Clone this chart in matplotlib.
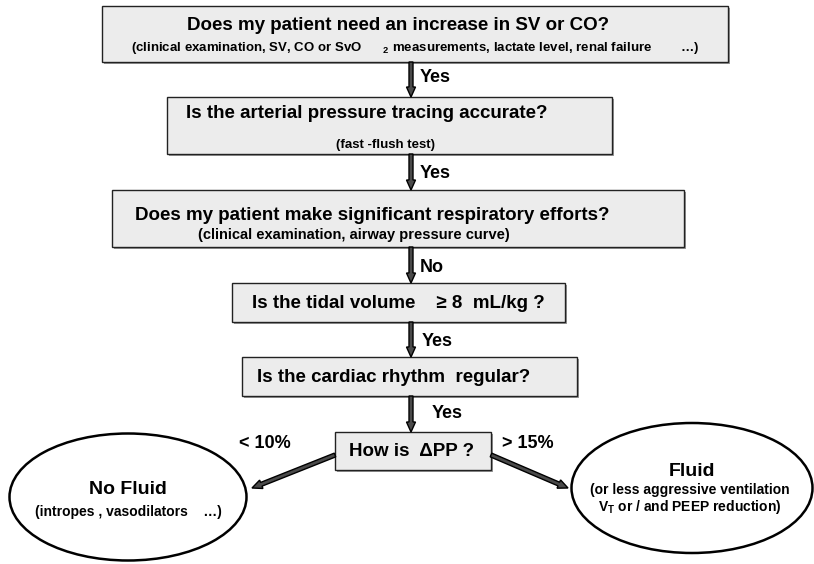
import matplotlib
matplotlib.use("Agg")
import matplotlib.pyplot as plt
from matplotlib.patches import Rectangle, Ellipse, FancyArrow

plt.rcParams['font.family'] = ['Liberation Sans', 'DejaVu Sans']
plt.rcParams['mathtext.fontset'] = 'custom'
plt.rcParams['mathtext.rm'] = 'Liberation Sans:bold'
plt.rcParams['mathtext.bf'] = 'Liberation Sans:bold'
plt.rcParams['mathtext.it'] = 'Liberation Sans:bold'

# flowchart content
box_titles = [
    "Does my patient need an increase in SV or CO?",
    "Is the arterial pressure tracing accurate?",
    "Does my patient make significant respiratory efforts?",
    "Is the tidal volume    \u2265 8  mL/kg ?",
    "Is the cardiac rhythm  regular?",
    "How is  \u0394PP ?",
]
box_notes = [
    "(clinical examination, SV, CO or SvO      $_\\mathbf{2}$ measurements, lactate level, renal failure        \u2026)",
    "(fast -flush test)",
    "(clinical examination, airway pressure curve)",
    "", "", "",
]
step_answers = ["Yes", "Yes", "No", "Yes", "Yes"]
branch_labels = ["< 10%", "> 15%"]
outcome_titles = ["No Fluid", "Fluid"]
outcome_notes = [
    ["(intropes , vasodilators    \u2026)"],
    ["(or less aggressive ventilation", "$\\mathbf{V_T}$ or / and PEEP reduction)"],
]

# layout (pixel units, y downwards)
boxes = [(102, 6, 728, 62), (167, 97, 612, 154), (112, 190, 684, 247),
         (232, 283, 565, 322), (242, 357, 577, 396), (335, 432, 491, 470)]
title_pos = [(398, 25), (367, 113), (372, 215), (398, 304), (394, 378), (412, 452)]
note_pos = [(415, 48), (385, 145), (354, 235), None, None, None]
note_size = [9.5, 9.5, 10.5, None, None, None]
answer_pos = [(420, 77), (420, 173), (420, 268), (422, 342), (432, 414)]
arrow_x = 411
ellipses = [(128, 497, 237, 127), (692, 488, 241, 130)]
branch_pos = [(265, 443), (528, 444)]
diag = [((335, 455), (252, 488)), ((491, 455), (568, 488))]
outcome_title_pos = [(128, 490), (692, 472)]
outcome_note_pos = [[(128, 512)], [(690, 490), (690, 507)]]

fig = plt.figure(figsize=(8.14, 5.64), dpi=100)
ax = fig.add_axes([0, 0, 1, 1])
ax.set_xlim(0, 814)
ax.set_ylim(564, 0)
ax.axis('off')


def draw_arrow(x0, y0, x1, y1):
    ax.add_patch(FancyArrow(x0, y0, x1 - x0, y1 - y0, width=4, head_width=9,
                            head_length=10, length_includes_head=True,
                            fc='#4a4a4a', ec='black', lw=1.0, zorder=3))


for i, (x0, y0, x1, y1) in enumerate(boxes):
    ax.add_patch(Rectangle((x0 + 1.5, y0 + 1.5), x1 - x0, y1 - y0, fc='#999999', ec='none', zorder=1))
    ax.add_patch(Rectangle((x0, y0), x1 - x0, y1 - y0, fc='#ececec', ec='#222222', lw=1.0, zorder=2))
    ax.text(*title_pos[i], box_titles[i], ha='center', va='center',
            fontsize=13.5, fontweight='bold', zorder=4)
    if note_pos[i] is not None:
        ax.text(*note_pos[i], box_notes[i], ha='center', va='center',
                fontsize=note_size[i], fontweight='bold', zorder=4)

for i in range(len(step_answers)):
    draw_arrow(arrow_x, boxes[i][3], arrow_x, boxes[i + 1][1])
    ax.text(*answer_pos[i], step_answers[i], ha='left', va='center',
            fontsize=13, fontweight='bold')

for i, (cx, cy, w, h) in enumerate(ellipses):
    ax.add_patch(Ellipse((cx, cy), w, h, fc='white', ec='black', lw=1.8, zorder=2))
    ax.text(*outcome_title_pos[i], outcome_titles[i], ha='center', va='center',
            fontsize=14, fontweight='bold', zorder=4)
    for pos, note in zip(outcome_note_pos[i], outcome_notes[i]):
        ax.text(*pos, note, ha='center', va='center', fontsize=10,
                fontweight='bold', zorder=4)

for (p0, p1), lab, pos in zip(diag, branch_labels, branch_pos):
    draw_arrow(p0[0], p0[1], p1[0], p1[1])
    ax.text(*pos, lab, ha='center', va='center', fontsize=13, fontweight='bold')

fig.savefig("out.png", dpi=100)
